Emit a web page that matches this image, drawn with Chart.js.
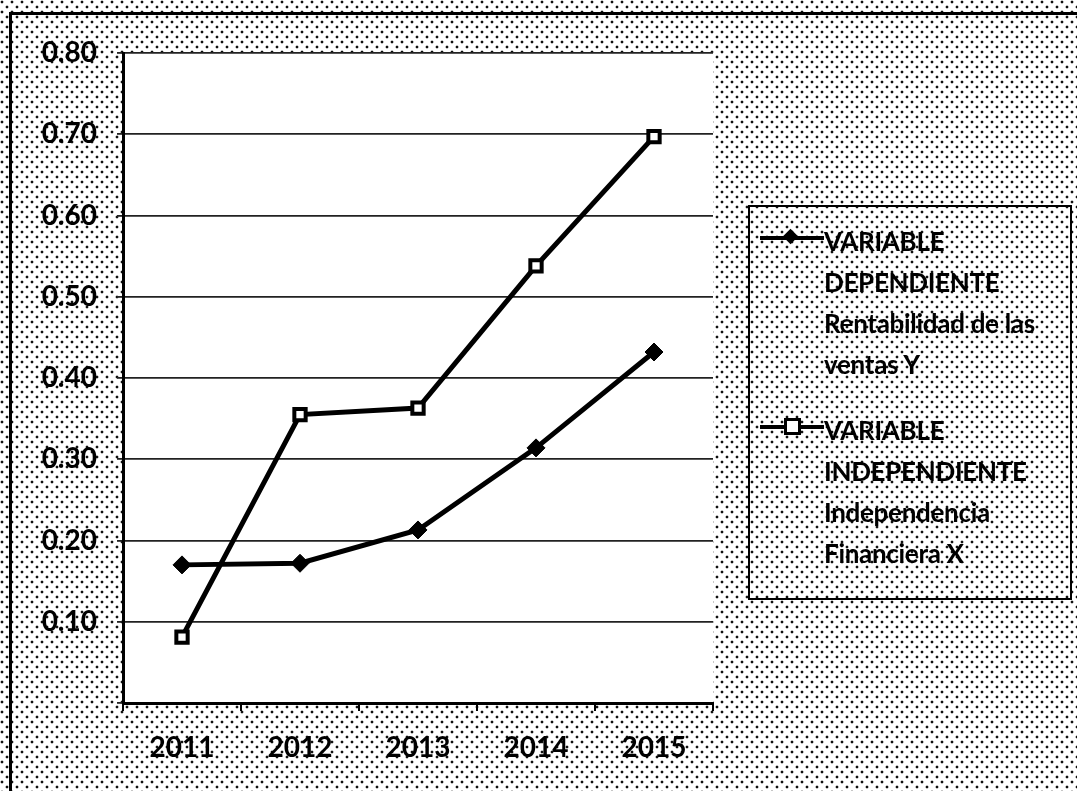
<!DOCTYPE html>
<html>
<head>
<meta charset="utf-8">
<script src="https://cdn.jsdelivr.net/npm/chart.js@4/dist/chart.umd.min.js"></script>
<style>
  html, body { margin: 0; padding: 0; background: #fff; overflow: hidden; }
  .page {
    width: 1077px; height: 791px; overflow: hidden; position: relative;
    background-color: #fff;
    background-image:
      radial-gradient(circle, #111 1.2px, transparent 1.7px),
      radial-gradient(circle, #111 1.2px, transparent 1.7px);
    background-size: 10px 10px, 10px 10px;
    background-position: 2px 2px, 7px 7px;
    font-family: Lato, "Open Sans", sans-serif;
  }
  .frame-top { position: absolute; left: 9px; top: 12px; width: 1068px; height: 3px; background: #000; }
  .frame-left { position: absolute; left: 9px; top: 12px; width: 3px; height: 779px; background: #000; }
  .chart-box { position: absolute; left: 0; top: 0; width: 1077px; height: 791px; }
  .legend {
    position: absolute; left: 748px; top: 205px; width: 324px; height: 395px;
    border: 2px solid #000; box-sizing: border-box;
  }
  .legend-item { position: absolute; left: 10px; }
  .legend-sym { position: absolute; left: 0; top: 15px; width: 64px; height: 4px; background: #000; }
  .legend-text {
    position: absolute; left: 64px; top: 0; width: 256px;
    font-size: 26px; font-weight: 700; line-height: 41px; color: #000; white-space: nowrap;
    letter-spacing: -0.3px;
  }
  .legend-text span { display: block; }
  .mk-diamond { position: absolute; left: 25px; top: -5px; width: 11px; height: 11px; background: #000; transform: rotate(45deg); }
  .mk-square { position: absolute; left: 24px; top: -7px; width: 11px; height: 11px; background: #fff; border: 3px solid #000; }
</style>
</head>
<body>
<div class="page">
  <div class="frame-top"></div>
  <div class="frame-left"></div>
  <div class="chart-box"><canvas id="myChart" width="1077" height="791"></canvas></div>
  <div class="legend" id="legend"></div>
</div>
<script>
//data
const years = ['2011', '2012', '2013', '2014', '2015'];
const dependiente = [0.170, 0.172, 0.213, 0.314, 0.432];
const independiente = [0.081, 0.355, 0.363, 0.538, 0.697];
const depLabel = ['VARIABLE', 'DEPENDIENTE', 'Rentabilidad de las', 'ventas Y'];
const indepLabel = ['VARIABLE', 'INDEPENDIENTE', 'Independencia', 'Financiera X'];

//white plot area
const plotBackground = {
  id: 'plotBackground',
  beforeDraw(chart) {
    const {ctx, chartArea} = chart;
    ctx.save();
    ctx.fillStyle = '#fff';
    ctx.fillRect(chartArea.left, chartArea.top, chartArea.right - chartArea.left, chartArea.bottom - chartArea.top);
    ctx.restore();
  }
};

const tickFont = { family: 'Lato', size: 28, weight: 'bold' };

const config = {
  type: 'line',
  data: {
    labels: years,
    datasets: [
      {
        label: depLabel.join(' '),
        data: dependiente,
        borderColor: '#000',
        backgroundColor: '#000',
        borderWidth: 5,
        pointStyle: 'rectRot',
        pointRadius: 9,
        pointBorderWidth: 1,
        pointBackgroundColor: '#000',
        tension: 0
      },
      {
        label: indepLabel.join(' '),
        data: independiente,
        borderColor: '#000',
        backgroundColor: '#fff',
        borderWidth: 5,
        pointStyle: 'rect',
        pointRadius: 8,
        pointBorderWidth: 4,
        pointBackgroundColor: '#fff',
        tension: 0
      }
    ]
  },
  options: {
    responsive: false,
    animation: false,
    layout: { padding: { left: 0, top: 53, right: 364, bottom: 0 } },
    plugins: { legend: { display: false }, tooltip: { enabled: false } },
    scales: {
      x: {
        offset: true,
        grid: { offset: true, drawOnChartArea: false, color: '#000', lineWidth: 2, tickLength: 8 },
        border: { color: '#000', width: 3 },
        ticks: { color: '#000', font: tickFont, padding: 20 },
        afterFit(scale) { scale.height = 88; }
      },
      y: {
        min: 0,
        max: 0.8,
        grid: { color: '#222', lineWidth: 1.8, tickLength: 6 },
        border: { color: '#000', width: 3 },
        ticks: {
          stepSize: 0.1,
          color: '#000',
          font: tickFont,
          padding: 20,
          callback: (v) => v === 0 ? '' : v.toFixed(2)
        },
        afterFit(scale) { scale.width = 123; }
      }
    }
  },
  plugins: [plotBackground]
};

const myChart = new Chart(document.getElementById('myChart'), config);

//legend
const legend = document.getElementById('legend');
const addItem = (lines, top, markerClass) => {
  const item = document.createElement('div');
  item.classList.add('legend-item');
  item.style.top = top + 'px';
  item.innerHTML = `<div class="legend-sym"><div class="${markerClass}"></div></div>
    <div class="legend-text">${lines.map(l => `<span>${l}</span>`).join('')}</div>`;
  legend.appendChild(item);
};
addItem(depLabel, 14, 'mk-diamond');
addItem(indepLabel, 203, 'mk-square');
</script>
</body>
</html>
